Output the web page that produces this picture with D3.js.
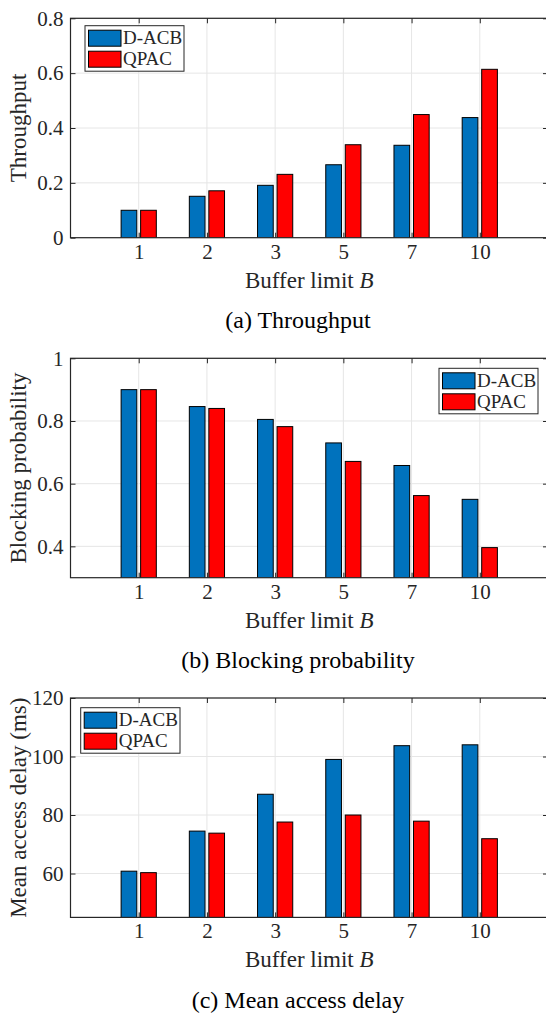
<!DOCTYPE html>
<html lang="en">
<meta charset="utf-8">
<title>Buffer limit comparison</title>
<script src="https://d3js.org/d3.v7.min.js"></script>
<style>
  body { margin: 0; background: #fff; }
  text { font-family: "Liberation Serif", "Times New Roman", serif; fill: #262626; }
</style>
<svg width="546" height="1013"></svg>
<script>
// data
var categories = ["1", "2", "3", "5", "7", "10"];
var seriesNames = ["D-ACB", "QPAC"];

var throughputDACB = [0.100, 0.151, 0.191, 0.266, 0.337, 0.438];
var throughputQPAC = [0.100, 0.171, 0.231, 0.339, 0.449, 0.614];
var throughputTicks = [0, 0.2, 0.4, 0.6, 0.8];

var blockingDACB = [0.900, 0.846, 0.805, 0.730, 0.658, 0.550];
var blockingQPAC = [0.900, 0.840, 0.782, 0.671, 0.562, 0.396];
var blockingTicks = [0.4, 0.6, 0.8, 1];

var delayDACB = [60.8, 74.5, 87.1, 99.0, 103.7, 104.0];
var delayQPAC = [60.3, 73.8, 77.6, 80.0, 77.9, 71.9];
var delayTicks = [60, 80, 100, 120];

var svg = d3.select("svg");
var colors = ["#0072BD", "#FF0000"];
var axisColor = "#262626";

var plotLeft = 70.5, plotRight = 548, plotH = 219.4;
var x = d3.scaleLinear().domain([0, categories.length + 1]).range([plotLeft, plotRight]);
var barOffset = 0.143, barW = x(0.23) - x(0);

var panels = [
  {top: 18.3, domain: [0, 0.8], ticks: throughputTicks, series: [throughputDACB, throughputQPAC],
   ylabel: "Throughput", caption: "(a) Throughput", legend: {x: 85, y: 25.7, w: 99}},
  {top: 358.3, domain: [0.3, 1], ticks: blockingTicks, series: [blockingDACB, blockingQPAC],
   ylabel: "Blocking probability", caption: "(b) Blocking probability", legend: {x: 439, y: 368.3, w: 99}},
  {top: 698, domain: [45, 120], ticks: delayTicks, series: [delayDACB, delayQPAC],
   ylabel: "Mean access delay (ms)", caption: "(c) Mean access delay", legend: {x: 80.7, y: 707.7, w: 99.3}}
];

panels.forEach(function(p, pi) {
  var bottom = p.top + plotH;
  var y = d3.scaleLinear().domain(p.domain).range([bottom, p.top]);
  var g = svg.append("g");

  g.append("clipPath").attr("id", "clip" + pi)
    .append("rect").attr("x", plotLeft).attr("y", p.top)
    .attr("width", plotRight - plotLeft).attr("height", plotH);

  // grid
  g.append("g").selectAll("line.gx").data(categories).enter().append("line")
    .attr("x1", function(d, i) { return x(i + 1); })
    .attr("x2", function(d, i) { return x(i + 1); })
    .attr("y1", p.top).attr("y2", bottom)
    .attr("stroke", "#e6e6e6").attr("stroke-width", 1);
  g.append("g").selectAll("line.gy").data(p.ticks).enter().append("line")
    .attr("x1", plotLeft).attr("x2", plotRight)
    .attr("y1", function(d) { return y(d); })
    .attr("y2", function(d) { return y(d); })
    .attr("stroke", "#e6e6e6").attr("stroke-width", 1);

  // bars
  var bars = g.append("g").attr("clip-path", "url(#clip" + pi + ")");
  p.series.forEach(function(vals, si) {
    bars.selectAll("rect.s" + si).data(vals).enter().append("rect")
      .attr("x", function(d, i) { return x(i + 1 + (si === 0 ? -barOffset : barOffset)) - barW / 2; })
      .attr("y", function(d) { return y(d); })
      .attr("width", barW)
      .attr("height", function(d) { return bottom + 5 - y(d); })
      .attr("fill", colors[si])
      .attr("stroke", "#000").attr("stroke-width", 1);
  });

  // axes box and inward ticks
  g.append("rect").attr("x", plotLeft).attr("y", p.top)
    .attr("width", plotRight - plotLeft).attr("height", plotH)
    .attr("fill", "none").attr("stroke", axisColor).attr("stroke-width", 1.2);

  var yl = g.append("g").attr("transform", "translate(" + plotLeft + ",0)")
    .call(d3.axisLeft(y).tickValues(p.ticks).tickSizeInner(-5).tickSizeOuter(0).tickPadding(7)
      .tickFormat(function(d) { return String(d); }));
  var yr = g.append("g").attr("transform", "translate(" + plotRight + ",0)")
    .call(d3.axisRight(y).tickValues(p.ticks).tickSizeInner(-5).tickSizeOuter(0).tickFormat(""));
  var xb = g.append("g").attr("transform", "translate(0," + bottom + ")")
    .call(d3.axisBottom(x).tickValues(d3.range(1, categories.length + 1)).tickSizeInner(-5).tickSizeOuter(0)
      .tickPadding(6).tickFormat(function(d) { return categories[d - 1]; }));
  var xt = g.append("g").attr("transform", "translate(0," + p.top + ")")
    .call(d3.axisTop(x).tickValues(d3.range(1, categories.length + 1)).tickSizeInner(-5).tickSizeOuter(0).tickFormat(""));

  [yl, yr, xb, xt].forEach(function(a) {
    a.select(".domain").remove();
    a.selectAll("line").attr("stroke", axisColor);
    a.selectAll("text").attr("font-size", "21px").attr("fill", axisColor);
  });

  // axis labels
  var xl = g.append("text")
    .attr("x", (plotLeft + plotRight) / 2).attr("y", bottom + 50)
    .attr("text-anchor", "middle").attr("font-size", "23px");
  xl.append("tspan").text("Buffer limit ");
  xl.append("tspan").attr("font-style", "italic").text("B");

  g.append("text")
    .attr("transform", "translate(26," + (p.top + plotH / 2) + ") rotate(-90)")
    .attr("text-anchor", "middle").attr("font-size", "23px")
    .text(p.ylabel);

  g.append("text")
    .attr("x", 298).attr("y", p.top + 310)
    .attr("text-anchor", "middle").attr("font-size", "24px").style("fill", "#000")
    .text(p.caption);

  // legend
  var lg = g.append("g").attr("transform", "translate(" + p.legend.x + "," + p.legend.y + ")");
  lg.append("rect").attr("width", p.legend.w).attr("height", 45.5)
    .attr("fill", "#fff").attr("stroke", axisColor).attr("stroke-width", 1);
  seriesNames.forEach(function(name, si) {
    lg.append("rect").attr("x", 3.5).attr("y", 4.5 + si * 21)
      .attr("width", 32.5).attr("height", 16)
      .attr("fill", colors[si]).attr("stroke", "#000").attr("stroke-width", 1);
    lg.append("text").attr("x", 38).attr("y", 18.5 + si * 21)
      .attr("font-size", "19px").text(name);
  });
});
</script>
</html>
